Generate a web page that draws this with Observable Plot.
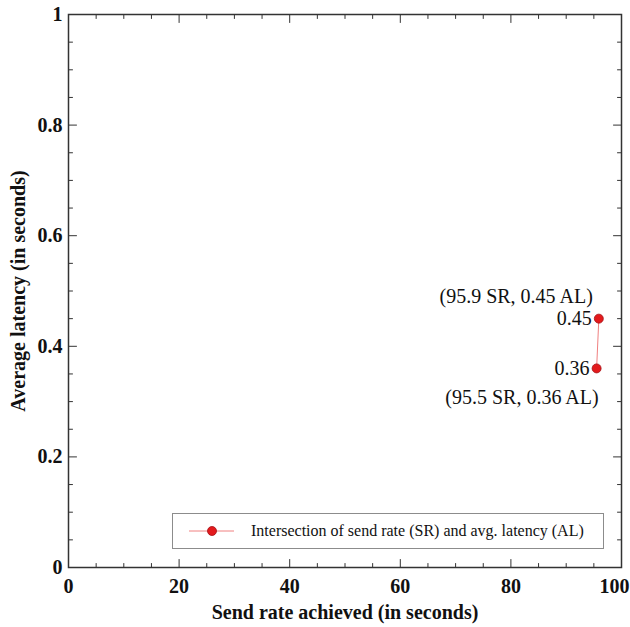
<!DOCTYPE html>
<html><head><meta charset="utf-8">
<script src="https://cdn.jsdelivr.net/npm/d3@7"></script>
<script src="https://cdn.jsdelivr.net/npm/@observablehq/plot@0.6"></script>
<style>
body{margin:0;background:#fff;}
#wrap{position:relative;width:630px;height:627px;}
#legend{position:absolute;left:172px;top:513px;width:432px;height:36px;border:1.5px solid #8c8c8c;box-sizing:border-box;background:#fff;font-family:"Liberation Serif",serif;font-size:16px;color:#111;}
#legend svg{position:absolute;left:0;top:0;}
#legend span{position:absolute;left:78px;top:50%;transform:translateY(-50%);white-space:nowrap;}
</style></head><body>
<div id="wrap"><div id="legend"></div></div>
<script>
// data
const sendRate = [95.9, 95.5];
const latency = [0.45, 0.36];
const pointLabels = ["0.45", "0.36"];
const coordLabels = ["(95.9 SR, 0.45 AL)", "(95.5 SR, 0.36 AL)"];
const seriesName = "Intersection of send rate (SR) and avg. latency (AL)";
const xMajor = [0, 20, 40, 60, 80, 100];
const xMinor = [5, 10, 15, 25, 30, 35, 45, 50, 55, 65, 70, 75, 85, 90, 95];
const yMajor = [0, 0.2, 0.4, 0.6, 0.8, 1];
const yMinor = [0.05, 0.1, 0.15, 0.25, 0.3, 0.35, 0.45, 0.5, 0.55, 0.65, 0.7, 0.75, 0.85, 0.9, 0.95];
const xTitle = "Send rate achieved (in seconds)";
const yTitle = "Average latency (in seconds)";

const pts = sendRate.map((x, i) => ({x, y: latency[i], label: pointLabels[i], coord: coordLabels[i]}));

const lineColor = "#f08080";
const dotFill = "#e31a1c";
const dotStroke = "#a50f15";
const axisColor = "#333";

const tickShape = {draw(context, l) { context.moveTo(0, 0); context.lineTo(0, -l); }};
const ticks = (vals, axis, len) => {
  const base = {shape: tickShape, length: len, anchor: "start", stroke: axisColor, strokeWidth: 1};
  if (axis === "x") return [
    Plot.vector(vals, {...base, x: d => d, frameAnchor: "bottom", rotate: 0}),
    Plot.vector(vals, {...base, x: d => d, frameAnchor: "top", rotate: 180})
  ];
  return [
    Plot.vector(vals, {...base, y: d => d, frameAnchor: "left", rotate: 90}),
    Plot.vector(vals, {...base, y: d => d, frameAnchor: "right", rotate: -90})
  ];
};

const xLabelStyle = {tickSize: 0, tickPadding: 11, fontSize: 20, fontWeight: "bold", tickFormat: d => String(d), label: null};

const chart = Plot.plot({
  width: 630,
  height: 627,
  marginLeft: 68,
  marginRight: 9,
  marginTop: 14,
  marginBottom: 60,
  style: {fontFamily: "'Liberation Serif', serif", background: "#fff", color: "#111"},
  x: {domain: [0, 100]},
  y: {domain: [0, 1]},
  marks: [
    ...ticks(xMinor, "x", 4),
    ...ticks(xMajor, "x", 8),
    ...ticks(yMinor, "y", 4),
    ...ticks(yMajor, "y", 8),
    Plot.frame({stroke: axisColor, strokeWidth: 1.5}),
    Plot.axisX(xMajor.filter(d => d < 100), xLabelStyle),
    Plot.axisX(xMajor.filter(d => d === 100), {...xLabelStyle, dx: -7}),
    Plot.axisY(yMajor, {tickSize: 0, tickPadding: 6, fontSize: 20, fontWeight: "bold", tickFormat: d => String(d), label: null}),
    Plot.text([xTitle], {text: d => d, frameAnchor: "bottom", textAnchor: "middle", lineAnchor: "middle", dy: 45, fontSize: 20, fontWeight: "bold"}),
    Plot.text([yTitle], {text: d => d, frameAnchor: "left", textAnchor: "middle", lineAnchor: "middle", dx: -50, rotate: -90, fontSize: 20, fontWeight: "bold"}),
    Plot.line(pts, {x: "x", y: "y", stroke: lineColor, strokeWidth: 1}),
    Plot.dot(pts, {x: "x", y: "y", r: 4.5, fill: dotFill, stroke: dotStroke, strokeWidth: 0.8}),
    Plot.text(pts, {x: "x", y: "y", text: "label", textAnchor: "end", dx: -7, fontSize: 20}),
    Plot.text([pts[0]], {x: "x", y: "y", text: "coord", textAnchor: "end", dx: -6, dy: -22, fontSize: 20}),
    Plot.text([pts[1]], {x: "x", y: "y", text: "coord", textAnchor: "end", dx: 2, dy: 29, fontSize: 20})
  ]
});
document.getElementById("wrap").prepend(chart);

const legend = document.getElementById("legend");
legend.innerHTML = `<svg width="70" height="33"><line x1="16" y1="17" x2="61" y2="17" stroke="${lineColor}" stroke-width="1"/><circle cx="39" cy="17" r="4.5" fill="${dotFill}" stroke="${dotStroke}" stroke-width="0.8"/></svg><span></span>`;
legend.querySelector("span").textContent = seriesName;
</script>
</body></html>
